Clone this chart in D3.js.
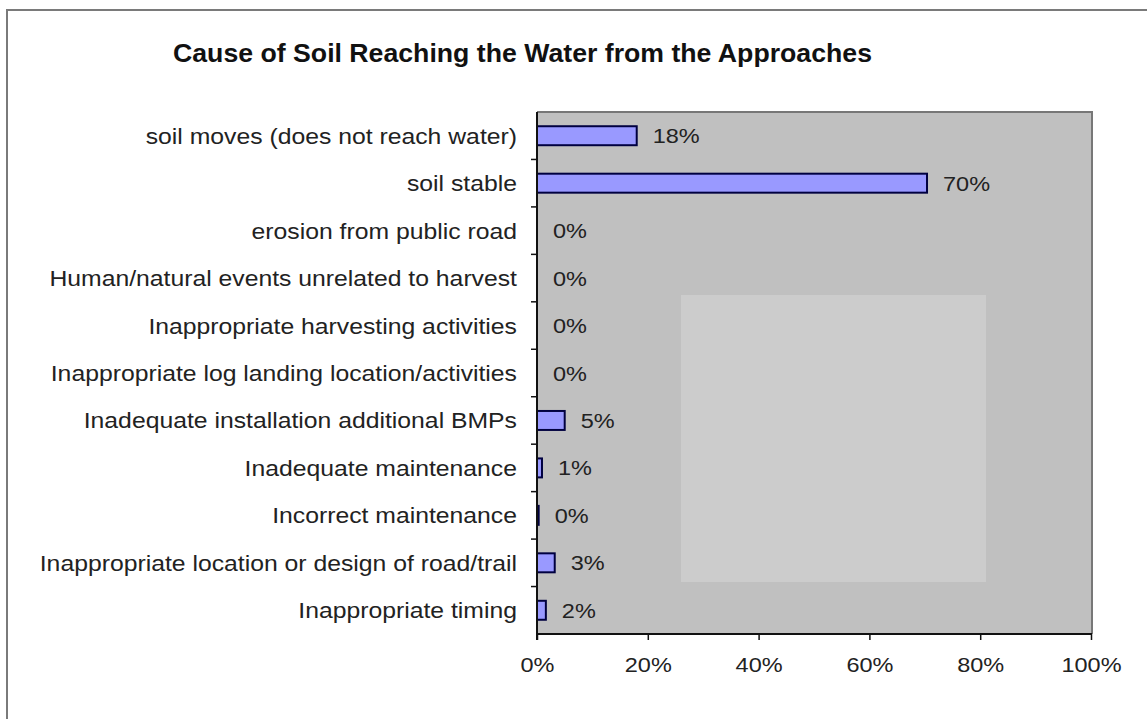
<!DOCTYPE html>
<html>
<head>
<meta charset="utf-8">
<script src="https://cdn.jsdelivr.net/npm/d3@7"></script>
<style>
  body { margin: 0; background: #fff; }
  svg { display: block; font-family: "Liberation Sans", Arial, sans-serif; }
</style>
</head>
<body>
<div class="chart"></div>
<script>
var title = "Cause of Soil Reaching the Water from the Approaches";

var categories = [
  "soil moves (does not reach water)",
  "soil stable",
  "erosion from public road",
  "Human/natural events unrelated to harvest",
  "Inappropriate harvesting activities",
  "Inappropriate log landing location/activities",
  "Inadequate installation additional BMPs",
  "Inadequate maintenance",
  "Incorrect maintenance",
  "Inappropriate location or design of road/trail",
  "Inappropriate timing"
];

var values = [18, 70.4, 0, 0, 0, 0, 5, 0.9, 0.3, 3.2, 1.6];

var xTicks = [0, 20, 40, 60, 80, 100];

var width = 1147, height = 719;
var plotLeft = 537, plotRight = 1091, plotTop = 112, plotBottom = 634;
var fs = 21, catFs = 22.1, stretch = 1.12;   // the picture's text is a little wide

var svg = d3.select(".chart").append("svg")
            .attr("width", width)
            .attr("height", height);

// outer frame (left and top edges only are visible)
svg.append("path")
   .attr("d", "M7,719 V10 H1147")
   .attr("fill", "none")
   .attr("stroke", "#7a7a7a")
   .attr("stroke-width", 2);

svg.append("text")
   .attr("x", 173)
   .attr("y", 62)
   .attr("textLength", 699)
   .attr("lengthAdjust", "spacingAndGlyphs")
   .attr("font-size", 25)
   .attr("font-weight", "bold")
   .attr("fill", "#111")
   .text(title);

var x = d3.scaleLinear().domain([0, 100]).range([plotLeft, plotRight]);
var y = d3.scaleBand().domain(categories).range([plotTop, plotBottom]).paddingInner(0.6).paddingOuter(0.3);
var yb = d3.scaleBand().domain(categories).range([plotTop, plotBottom]);

// plot area
svg.append("rect")
   .attr("x", plotLeft)
   .attr("y", plotTop)
   .attr("width", plotRight - plotLeft)
   .attr("height", plotBottom - plotTop)
   .attr("fill", "#c0c0c0");

// lighter patch seen in the picture
svg.append("rect")
   .attr("x", 681)
   .attr("y", 295)
   .attr("width", 305)
   .attr("height", 287)
   .attr("fill", "#cccccc");

svg.append("path")
   .attr("d", "M" + plotLeft + "," + plotTop + " H" + (plotRight + 1) + " V" + plotBottom)
   .attr("fill", "none")
   .attr("stroke", "#777")
   .attr("stroke-width", 2);

svg.selectAll(".bar")
   .data(values)
   .enter().append("rect")
   .attr("class", "bar")
   .attr("x", x(0))
   .attr("y", function(d, i) { return y(categories[i]); })
   .attr("width", function(d) { return x(d) - x(0); })
   .attr("height", y.bandwidth())
   .attr("fill", "#9999ff")
   .attr("stroke", function(d) { return d > 0 ? "#000040" : "none"; })
   .attr("stroke-width", 2);

svg.selectAll(".val")
   .data(values)
   .enter().append("text")
   .attr("class", "val")
   .attr("transform", function(d, i) {
     return "translate(" + (x(d) + 16) + "," + (y(categories[i]) + y.bandwidth() / 2) + ") scale(" + stretch + ",1)";
   })
   .attr("dy", "0.36em")
   .attr("font-size", fs)
   .attr("fill", "#222")
   .text(function(d) { return Math.round(d) + "%"; });

// category labels
svg.selectAll(".cat")
   .data(categories)
   .enter().append("text")
   .attr("class", "cat")
   .attr("transform", function(d) {
     return "translate(" + (plotLeft - 20) + "," + (yb(d) + yb.bandwidth() / 2) + ") scale(" + stretch + ",1)";
   })
   .attr("dy", "0.36em")
   .attr("text-anchor", "end")
   .attr("font-size", catFs)
   .attr("fill", "#222")
   .text(function(d) { return d; });

svg.selectAll(".ytick")
   .data(categories.slice(1))
   .enter().append("line")
   .attr("x1", plotLeft - 6)
   .attr("x2", plotLeft)
   .attr("y1", function(d) { return yb(d); })
   .attr("y2", function(d) { return yb(d); })
   .attr("stroke", "#111")
   .attr("stroke-width", 1.5);

var xAxis = svg.append("g")
   .attr("transform", "translate(0," + plotBottom + ")")
   .call(d3.axisBottom(x).tickValues(xTicks).tickSize(6).tickPadding(12)
           .tickFormat(function(d) { return d + "%"; }));
xAxis.select(".domain").remove();
xAxis.selectAll("line").attr("stroke", "#111").attr("stroke-width", 1.5);
xAxis.selectAll("text")
   .attr("font-size", fs)
   .attr("fill", "#222")
   .attr("dy", null)
   .attr("y", 38)
   .attr("transform", "scale(" + stretch + ",1)")
   .attr("font-family", "Liberation Sans, Arial, sans-serif");

svg.append("line")
   .attr("x1", plotLeft).attr("x2", plotRight + 1)
   .attr("y1", plotBottom).attr("y2", plotBottom)
   .attr("stroke", "#111").attr("stroke-width", 2);
svg.append("line")
   .attr("x1", plotLeft).attr("x2", plotLeft)
   .attr("y1", plotTop).attr("y2", plotBottom + 6)
   .attr("stroke", "#111").attr("stroke-width", 2);
</script>
</body>
</html>
